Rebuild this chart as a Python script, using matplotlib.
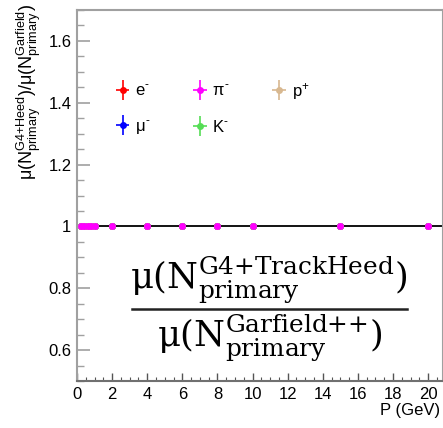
import matplotlib
matplotlib.use("Agg")
import matplotlib.pyplot as plt
from matplotlib.ticker import MultipleLocator
from matplotlib.lines import Line2D
from matplotlib.legend_handler import HandlerErrorbar
from matplotlib.container import ErrorbarContainer

plt.rcParams['font.family'] = ['Liberation Sans', 'DejaVu Sans']
plt.rcParams['mathtext.fontset'] = 'custom'
plt.rcParams['mathtext.rm'] = 'Liberation Sans'
plt.rcParams['mathtext.it'] = 'Liberation Sans'
plt.rcParams['mathtext.bf'] = 'Liberation Sans:bold'

# Momentum points (GeV) and primary-ionisation ratio per particle species
momentum = [0.2, 0.4, 0.6, 0.8, 1.0, 2, 4, 6, 8, 10, 15, 20]
ratio_e = [1.0] * 12
ratio_mu = [1.0] * 12
ratio_k = [1.0] * 12
ratio_p = [1.0] * 12
ratio_pi = [1.0] * 12
ratio_err = [0.002] * 12

species = [
    ('e$^{‐}$', ratio_e, '#ff0000'),
    ('$\\mu^{‐}$', ratio_mu, '#0000ff'),
    ('$\\pi^{‐}$', ratio_pi, '#ff00ff'),
    ('K$^{‐}$', ratio_k, '#55dd55'),
    ('p$^{+}$', ratio_p, '#d8b890'),
]

fig = plt.figure(figsize=(4.43, 4.28), dpi=100)
ax = fig.add_axes([77 / 443, 1 - 381 / 428, 1 - 77 / 443, (381 - 10) / 428])

ax.axhline(1.0, color='black', lw=1.3, zorder=1)

handles = []
for label, vals, col in species:
    z = 5 if col == '#ff00ff' else 3
    h = ax.errorbar(momentum, vals, yerr=ratio_err, xerr=[0.1] * 12, fmt='o',
                    color=col, ms=5, mew=0, elinewidth=1.2, capsize=2,
                    zorder=z, label=label)
    handles.append(h)

ax.set_xlim(0, 20.85)
ax.set_ylim(0.5, 1.7)
ax.xaxis.set_major_locator(MultipleLocator(2))
ax.xaxis.set_minor_locator(MultipleLocator(0.5))
ax.yaxis.set_major_locator(MultipleLocator(0.2))
ax.yaxis.set_minor_locator(MultipleLocator(0.05))
ax.yaxis.set_major_formatter(plt.FuncFormatter(lambda v, p: f'{v:g}'))

spine_col = '#a0a0a0'
for s in ['left', 'top', 'bottom', 'right']:
    ax.spines[s].set_color(spine_col)
    ax.spines[s].set_linewidth(1.5)
ax.spines['bottom'].set_color('#707070')
ax.tick_params(axis='y', which='major', direction='in', length=9.5, width=1.2,
               color=spine_col, labelsize=12, pad=4)
ax.tick_params(axis='y', which='minor', direction='in', length=5, width=1.0,
               color=spine_col)
ax.tick_params(axis='x', which='major', direction='in', length=5.5, width=1.0,
               color='#555555', labelsize=12, pad=4)
ax.tick_params(axis='x', which='minor', direction='in', length=3, width=0.8,
               color='#555555')

leg = ax.legend(handles=handles, loc='upper left', bbox_to_anchor=(0.063, 0.85),
                ncol=3, frameon=False, fontsize=12, handlelength=0.9,
                handletextpad=0.3, labelspacing=1.2, columnspacing=2.5,
                handler_map={ErrorbarContainer: HandlerErrorbar(xerr_size=0.4,
                                                                yerr_size=0.6)})

fig.text(29 / 443, 1 - 4 / 428,
         r'$\mu(\mathrm{N}^{\mathrm{G4{+}Heed}}_{\mathrm{primary}})/\mu(\mathrm{N}^{\mathrm{Garfield}}_{\mathrm{primary}})$',
         rotation=90, ha='center', va='top', fontsize=13)

fig.text(440 / 443, 1 - 411 / 428, 'P (GeV)', ha='right', va='center', fontsize=12)

# Ratio definition written as a stacked fraction
fig.text(269 / 443, 1 - 280 / 428,
         r'$\mathrm{μ}(\mathrm{N}^{\mathrm{G4{+}TrackHeed}}_{\mathrm{primary}})$',
         ha='center', va='center', fontsize=25.5, math_fontfamily='dejavuserif')
fig.text(270 / 443, 1 - 338 / 428,
         r'$\mathrm{μ}(\mathrm{N}^{\mathrm{Garfield{+}{+}}}_{\mathrm{primary}})$',
         ha='center', va='center', fontsize=25.5, math_fontfamily='dejavuserif')
fig.add_artist(Line2D([132 / 443, 407 / 443], [1 - 309 / 428, 1 - 309 / 428],
                      transform=fig.transFigure, color='#222222', lw=1.8))

fig.savefig('out.png', dpi=100)
